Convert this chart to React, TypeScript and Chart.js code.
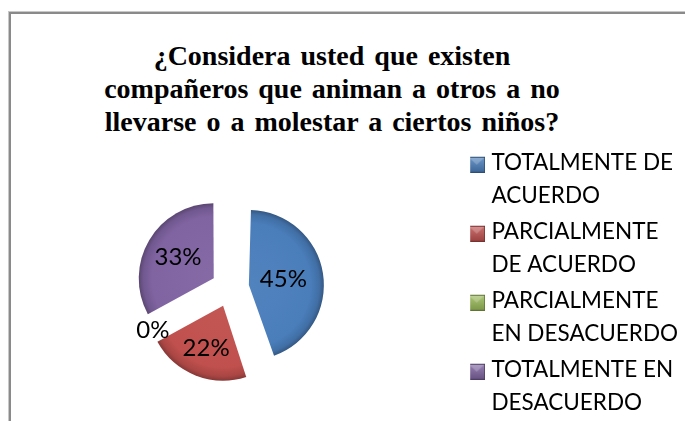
import { useEffect, useRef, useState } from "react";
import { Chart, registerables } from "chart.js";

Chart.register(...registerables);

const TITLE_LINES = [
  "¿Considera usted que existen",
  "compañeros que animan a otros a no",
  "llevarse o a molestar a ciertos niños?",
];
const CATEGORY_LINES = [
  ["TOTALMENTE DE", "ACUERDO"],
  ["PARCIALMENTE", "DE ACUERDO"],
  ["PARCIALMENTE", "EN DESACUERDO"],
  ["TOTALMENTE EN", "DESACUERDO"],
];
const VALUES = [45, 22, 0, 33];
const COLORS = ["#4a7ebb", "#c0504d", "#9bbb59", "#8064a2"];

const FONT_FAMILY = "Lato";
const LEGEND_FONT_SIZE = 22.5;
const LABEL_FONT_SIZE = 24;
const LEGEND_PAD = 3;
const BOX_W = 7;
const RADIUS = 75;
const OFFSET = 76; // chart.js moves an arc by offset/4
const PIE_CX = 230;
const LEGEND_TEXT_X = 491;
const CANVAS_TOP = 2;
const CANVAS_HEIGHT = 572;

function hexToRgb(h: string) {
  const n = parseInt(h.slice(1), 16);
  return [(n >> 16) & 255, (n >> 8) & 255, n & 255];
}
function mix(h: string, f: number, toWhite = false) {
  const [r, g, b] = hexToRgb(h);
  const m = (c: number) => Math.round(toWhite ? c + (255 - c) * f : c * f);
  return `rgb(${m(r)},${m(g)},${m(b)})`;
}

function makeBox(color: string) {
  const cv = document.createElement("canvas");
  cv.width = 17;
  cv.height = 20;
  const x = cv.getContext("2d")!;
  const top = 4;
  const g = x.createLinearGradient(0, top, 0, top + 16);
  g.addColorStop(0, mix(color, 0.2, true));
  g.addColorStop(1, mix(color, 0.8));
  x.fillStyle = g;
  x.fillRect(0, top, 17, 16);
  x.fillStyle = "rgba(255,255,255,0.22)";
  x.beginPath();
  x.moveTo(1, top + 1);
  x.lineTo(16, top + 1);
  x.lineTo(8.5, top + 8);
  x.closePath();
  x.fill();
  x.strokeStyle = mix(color, 0.62);
  x.lineWidth = 1;
  x.strokeRect(0.5, top + 0.5, 16, 15);
  return cv;
}

const flatOffsetPlugin = {
  id: "flatOffset",
  afterDatasetUpdate(_chart: any, args: any) {
    args.meta.data.forEach((arc: any) => {
      const off = ((arc.options && arc.options.offset) || 0) / 4;
      const fix = 1 - Math.sin(Math.min(Math.PI, arc.circumference || 0));
      arc.outerRadius = RADIUS - off * fix;
    });
  },
};

const sliceLabelPlugin = {
  id: "sliceLabels",
  afterDatasetsDraw(chart: any) {
    const meta = chart.getDatasetMeta(0);
    const ctx = chart.ctx;
    const total = VALUES.reduce((a, b) => a + b, 0);
    ctx.save();
    ctx.font = `${LABEL_FONT_SIZE}px ${FONT_FAMILY}`;
    ctx.fillStyle = "#000";
    ctx.textAlign = "center";
    ctx.textBaseline = "middle";
    meta.data.forEach((arc: any, i: number) => {
      const { x, y, startAngle, endAngle } = arc;
      const off = ((arc.options && arc.options.offset) || 0) / 4;
      const mid = (startAngle + endAngle) / 2;
      const half = (endAngle - startAngle) / 2;
      let d: number;
      if (half <= 0) d = RADIUS + LABEL_FONT_SIZE * 0.55;
      else d = off + (2 * RADIUS * Math.sin(half)) / (3 * half);
      const txt = Math.round((VALUES[i] / total) * 100) + "%";
      ctx.fillText(txt, x + Math.cos(mid) * d, y + Math.sin(mid) * d);
    });
    ctx.restore();
  },
};

export default function App() {
  const ref = useRef<HTMLCanvasElement>(null);
  const [geom, setGeom] = useState<{ left: number; width: number } | null>(null);

  useEffect(() => {
    let alive = true;
    const font = `${LEGEND_FONT_SIZE}px ${FONT_FAMILY}`;
    const measure = () => {
      if (!alive) return;
      const m = document.createElement("canvas").getContext("2d")!;
      m.font = font;
      let maxW = 0;
      CATEGORY_LINES.forEach((lines) => {
        const longest = lines.reduce((a, b) => (a.length > b.length ? a : b));
        maxW = Math.max(maxW, m.measureText(longest).width);
      });
      const legendLeft = LEGEND_TEXT_X - BOX_W - LEGEND_FONT_SIZE / 2 - LEGEND_PAD;
      const left = 2 * PIE_CX - legendLeft;
      const width = LEGEND_TEXT_X - left + 10 + maxW;
      setGeom({ left, width: Math.ceil(width) });
    };
    const p = (document as any).fonts ? (document as any).fonts.load(font) : Promise.resolve();
    p.then(measure, measure);
    return () => {
      alive = false;
    };
  }, []);

  useEffect(() => {
    if (!geom || !ref.current) return;
    const boxes = COLORS.map(makeBox);
    const chart = new Chart(ref.current, {
      type: "pie",
      data: {
        labels: CATEGORY_LINES as any,
        datasets: [
          {
            data: VALUES,
            borderWidth: 0,
            offset: OFFSET,
            radius: RADIUS,
            backgroundColor: (c: any) => {
              const i = c.dataIndex ?? 0;
              const area = c.chart.chartArea;
              if (!area) return COLORS[i];
              const cx = (area.left + area.right) / 2;
              const cy = (area.top + area.bottom) / 2;
              const g = c.chart.ctx.createRadialGradient(cx, cy, 0, cx, cy, RADIUS);
              g.addColorStop(0, mix(COLORS[i], 0.04, true));
              g.addColorStop(0.82, COLORS[i]);
              g.addColorStop(0.94, mix(COLORS[i], 0.88));
              g.addColorStop(1, mix(COLORS[i], 0.7));
              return g;
            },
          } as any,
        ],
      },
      options: {
        animation: false,
        responsive: false,
        maintainAspectRatio: false,
        layout: { padding: 0 },
        plugins: {
          title: { display: false },
          tooltip: { enabled: false },
          legend: {
            position: "right",
            labels: {
              usePointStyle: true,
              boxWidth: BOX_W,
              padding: LEGEND_PAD,
              color: "#000",
              font: { family: FONT_FAMILY, size: LEGEND_FONT_SIZE, lineHeight: 33 / LEGEND_FONT_SIZE },
              generateLabels: (ch: any) => {
                const base = (Chart as any).overrides.pie.plugins.legend.labels.generateLabels(ch);
                return base.map((it: any, i: number) => ({ ...it, pointStyle: boxes[i] }));
              },
            },
          },
        },
      },
      plugins: [flatOffsetPlugin, sliceLabelPlugin],
    });
    return () => chart.destroy();
  }, [geom]);

  return (
    <div style={{ position: "fixed", inset: 0, overflow: "hidden", background: "#fff" }}>
      <div
        style={{
          position: "absolute",
          left: 9,
          top: 12,
          width: 800,
          height: 600,
          borderLeft: "2px solid #8a8a8a",
          borderTop: "2px solid #8a8a8a",
          boxShadow: "-1px -1px 0 #c8c8c8",
        }}
      />
      <div
        style={{
          position: "absolute",
          left: 0,
          top: 39,
          width: 664,
          textAlign: "center",
          fontFamily: '"Liberation Serif"',
          fontWeight: 700,
          fontSize: 28,
          wordSpacing: 3,
          lineHeight: "33px",
          color: "#000",
        }}
      >
        {TITLE_LINES.map((l, i) => (
          <div key={i} style={{ fontFamily: '"Liberation Serif"' }}>
            {l}
          </div>
        ))}
      </div>
      {geom && (
        <canvas
          ref={ref}
          width={geom.width}
          height={CANVAS_HEIGHT}
          style={{
            position: "absolute",
            left: geom.left,
            top: CANVAS_TOP,
            width: geom.width,
            height: CANVAS_HEIGHT,
          }}
        />
      )}
    </div>
  );
}
